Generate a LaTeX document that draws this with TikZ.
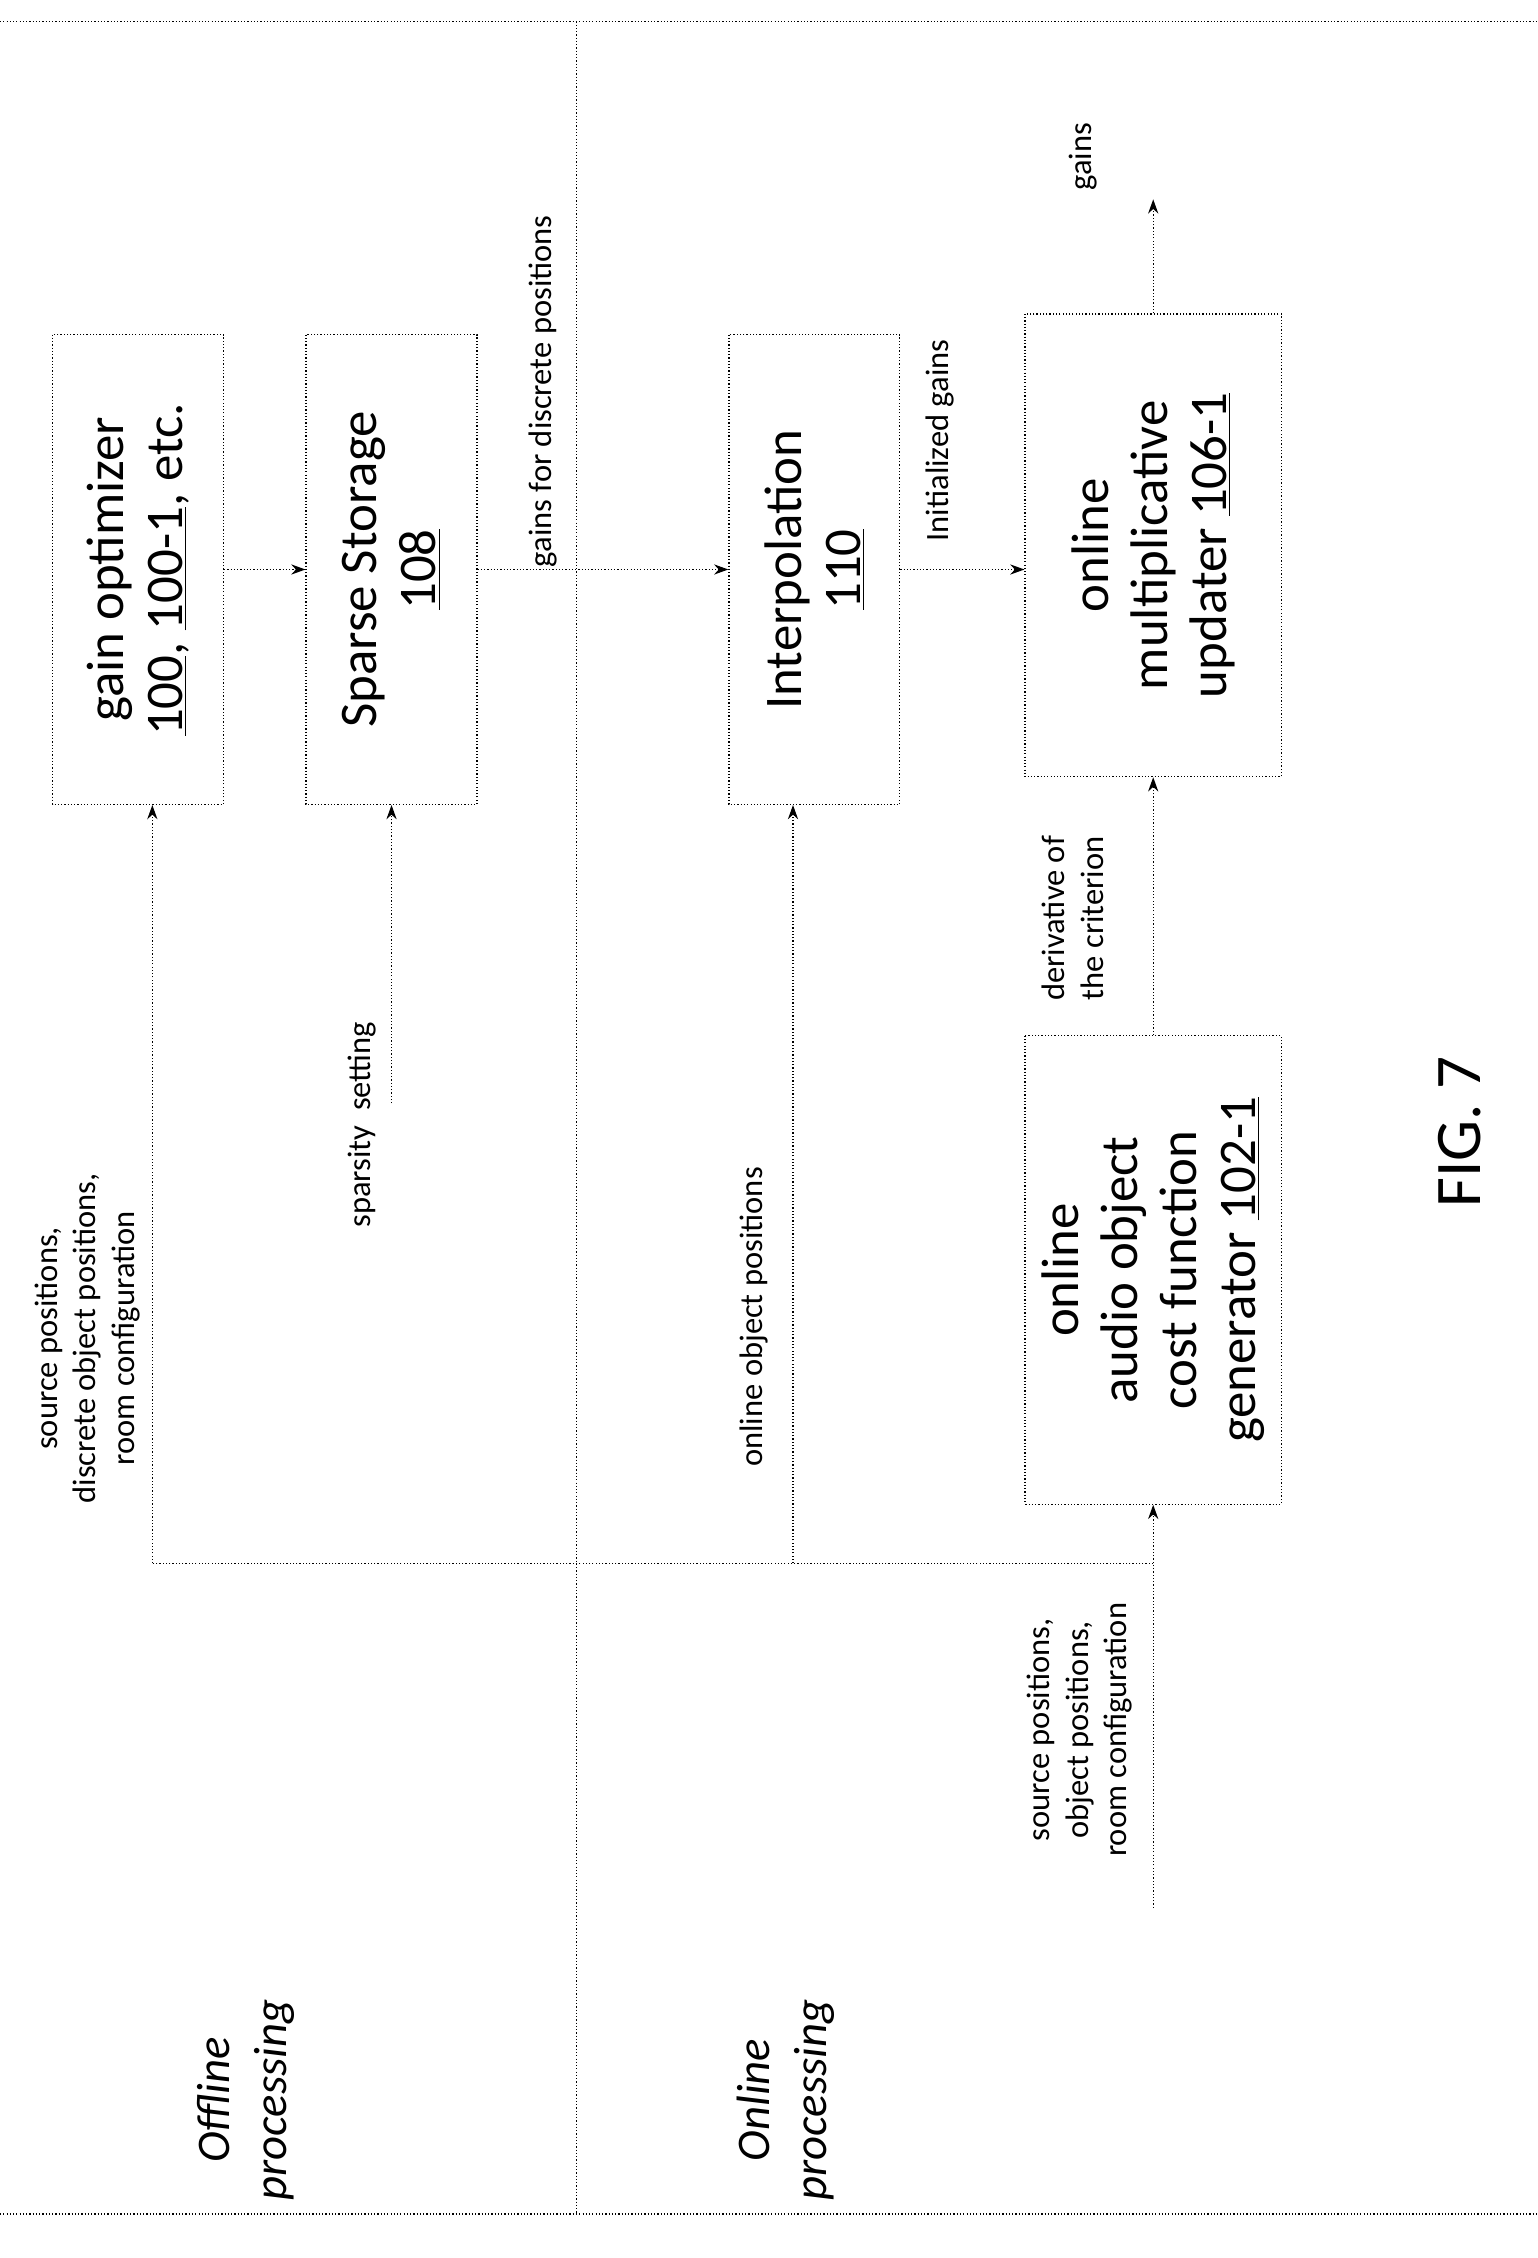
\documentclass[tikz,border=0pt]{standalone}
\usepackage{fontspec}
\setmainfont{Carlito}
\usetikzlibrary{arrows.meta}
\begin{document}
\begin{tikzpicture}[x=0.7pt,y=-0.7pt,
  box/.style={draw,densely dotted,line width=0.6pt,minimum width=330*0.7pt,align=center,rotate=90,font=\fontsize{26}{29}\selectfont,inner sep=0pt},
  conn/.style={densely dotted,line width=0.6pt},
  arr/.style={conn,-{Stealth[length=7pt,width=5pt]}},
  lab/.style={rotate=90,align=center,font=\fontsize{16}{19}\selectfont,inner sep=1pt},
  big/.style={rotate=90,align=center,font=\itshape\fontsize{23}{28}\selectfont}]
\useasboundingbox (0,0) rectangle (1080,1586);
% separators
\draw[conn] (405,15) coordinate (t) -- (405,1555) coordinate (b);
\draw[conn] (0,15) coordinate (tl) -- (1080,15) coordinate (tr);
\draw[conn] (0,1555) coordinate (bl) -- (1080,1555) coordinate (br);
% boxes
\node[box,minimum height=120*0.7pt] (go) at (97,400) {gain optimizer\\\underline{100}, \underline{100-1}, etc.};
\node[box,minimum height=120*0.7pt] (ss) at (275,400) {Sparse Storage\\\underline{108}};
\node[box,minimum height=120*0.7pt] (ip) at (572,400) {Interpolation\\\underline{110}};
\node[box,minimum height=180*0.7pt,minimum width=325*0.7pt] (up) at (810,383) {online\\multiplicative\\updater \underline{106-1}};
\node[box,minimum height=180*0.7pt,minimum width=329*0.7pt] (cf) at (810,892) {online\\audio object\\cost function\\generator \underline{102-1}};
% connectors
\draw[arr] (go.south) -- (ss.north);
\draw[arr] (ss.south) -- (ip.north);
\draw[arr] (ip.south) -- (up.north|-ip.south);
\coordinate (gout) at (810,140);
\draw[arr] (up.east) -- (gout);
\draw[arr] (cf.east) -- (up.west);
\coordinate (sp) at (275,775);
\draw[arr] (sp) -- (ss.west);
\coordinate (in) at (810,1340);
\coordinate (j1) at (810,1098);
\coordinate (j2) at (557,1098);
\coordinate (j3) at (107,1098);
\draw[arr] (in) -- (cf.west);
\draw[conn] (j1) -- (j3);
\draw[arr] (j3) -- (go.west-|j3);
\draw[arr] (j2) -- (ip.west-|j2);
% labels
\node[lab,anchor=south west] (l1) at (393,400) {gains for discrete positions};
\node[lab,anchor=south west] (l2) at (672,382) {Initialized gains};
\node[lab,anchor=south] (l3) at (772,110) {gains};
\node[lab,anchor=south] (l4) at (266,790) {sparsity~~setting};
\node[lab,anchor=south] (l5) at (777,645) {derivative of\\the criterion};
\node[lab,anchor=south] (l6) at (100,940) {source positions,\\discrete object positions,\\room configuration};
\node[lab,anchor=south] (l7) at (541,925) {online object positions};
\node[lab,anchor=south] (l8) at (797,1215) {source positions,\\object positions,\\room configuration};
\node[big] (off) at (173,1475) {Offline\\processing};
\node[big] (on) at (552,1475) {Online\\processing};
\node[rotate=90,font=\fontsize{32}{36}\selectfont] (fig) at (1025,795) {FIG. 7};
\end{tikzpicture}
\end{document}
